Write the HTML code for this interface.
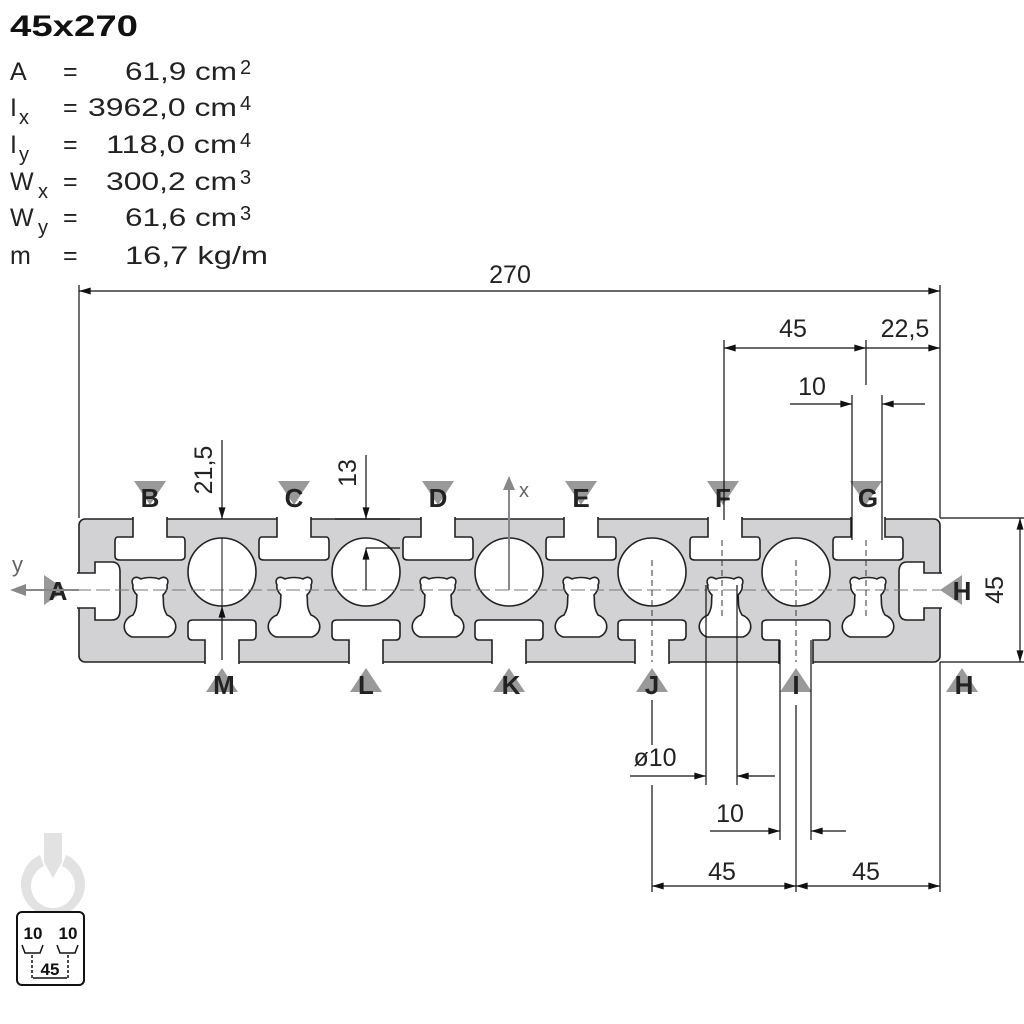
<!DOCTYPE html>
<html><head><meta charset="utf-8"><style>
html,body{margin:0;padding:0;background:#fff;}
svg{display:block;font-family:"Liberation Sans",sans-serif;}
</style></head><body>
<svg width="1024" height="1024" viewBox="0 0 1024 1024" xmlns="http://www.w3.org/2000/svg">
<defs>
<marker id="ar" viewBox="0 0 10 6" refX="10" refY="3" markerWidth="12" markerHeight="7" markerUnits="userSpaceOnUse" orient="auto-start-reverse"><path d="M0,0L10,3L0,6z" fill="#111"/></marker>
<g id="pear"><path d="M-9,-14 C-15,-18 -20,-14 -17,-8 C-18,-4 -15,0 -13,2 C-14,8 -12,14 -17,22 C-28,26 -29,40 -18,44 L18,44 C29,40 28,26 17,22 C12,14 14,8 13,2 C15,0 18,-4 17,-8 C20,-14 15,-18 9,-14 C4,-16 -4,-16 -9,-14 Z" fill="#fff" stroke="#222" stroke-width="1.6"/></g>
<g id="tslot"><path d="M-17,517 L-17,537 L-32,537 C-35,537 -35,540 -35,542 L-35,556 C-35,559 -33,560 -30,560 L30,560 C33,560 35,559 35,556 L35,542 C35,540 35,537 32,537 L17,537 L17,517" fill="#fff" stroke="#222" stroke-width="1.6"/></g>
<g id="bslot"><path d="M-17,664 L-17,640 L-30,640 C-33,640 -34,638 -34,635 L-34,624 C-34,621 -32,620 -29,620 L29,620 C32,620 34,621 34,624 L34,635 C34,638 33,640 30,640 L17,640 L17,664" fill="#fff" stroke="#222" stroke-width="1.6"/></g>
<polygon id="td" points="-16,-12 16,-12 0,12" fill="#999"/>
<polygon id="tu" points="-16,12 16,12 0,-12" fill="#999"/>
</defs>

<!-- header text -->
<text x="10" y="36" font-size="30" font-weight="bold" fill="#111" textLength="128" lengthAdjust="spacingAndGlyphs">45x270</text>
<g font-size="25" fill="#222">
<text x="10" y="80">A</text><text x="63" y="80">=</text>
<text x="237" y="80" text-anchor="end" textLength="112" lengthAdjust="spacingAndGlyphs">61,9 cm</text><text x="240" y="74" font-size="20">2</text>
<text x="10" y="116">I</text><text x="19" y="124" font-size="20">x</text><text x="63" y="116">=</text>
<text x="237" y="116" text-anchor="end" textLength="149" lengthAdjust="spacingAndGlyphs">3962,0 cm</text><text x="240" y="110" font-size="20">4</text>
<text x="10" y="153">I</text><text x="19" y="161" font-size="20">y</text><text x="63" y="153">=</text>
<text x="237" y="153" text-anchor="end" textLength="131" lengthAdjust="spacingAndGlyphs">118,0 cm</text><text x="240" y="147" font-size="20">4</text>
<text x="10" y="190">W</text><text x="38" y="198" font-size="20">x</text><text x="63" y="190">=</text>
<text x="237" y="190" text-anchor="end" textLength="131" lengthAdjust="spacingAndGlyphs">300,2 cm</text><text x="240" y="184" font-size="20">3</text>
<text x="10" y="226">W</text><text x="38" y="234" font-size="20">y</text><text x="63" y="226">=</text>
<text x="237" y="226" text-anchor="end" textLength="112" lengthAdjust="spacingAndGlyphs">61,6 cm</text><text x="240" y="220" font-size="20">3</text>
<text x="10" y="264">m</text><text x="63" y="264">=</text>
<text x="125" y="264" textLength="143" lengthAdjust="spacingAndGlyphs">16,7 kg/m</text>
</g>

<!-- profile -->
<rect x="79" y="519" width="861" height="143" rx="6" fill="#d2d2d4" stroke="#222" stroke-width="1.6"/>
<g>
<use href="#tslot" transform="translate(150,0)"/><use href="#tslot" transform="translate(294,0)"/>
<use href="#tslot" transform="translate(438,0)"/><use href="#tslot" transform="translate(581,0)"/>
<use href="#tslot" transform="translate(725,0)"/><use href="#tslot" transform="translate(868,0)"/>
<use href="#bslot" transform="translate(222,0)"/><use href="#bslot" transform="translate(366,0)"/>
<use href="#bslot" transform="translate(509,0)"/><use href="#bslot" transform="translate(652,0)"/>
<use href="#bslot" transform="translate(796,0)"/>
</g>
<path d="M77,573 L95,573 L95,562 L112,562 C118,562 120,566 120,572 L120,610 C120,616 118,620 112,620 L95,620 L95,608 L77,608" fill="#fff" stroke="#222" stroke-width="1.6"/>
<path d="M942,573 L924,573 L924,562 L907,562 C901,562 899,566 899,572 L899,610 C899,616 901,620 907,620 L924,620 L924,608 L942,608" fill="#fff" stroke="#222" stroke-width="1.6"/>
<g fill="#fff" stroke="#222" stroke-width="1.6">
<circle cx="222" cy="572" r="34"/><circle cx="366" cy="572" r="34"/><circle cx="509" cy="572" r="34"/>
<circle cx="652" cy="572" r="34"/><circle cx="796" cy="572" r="34"/>
</g>
<g>
<use href="#pear" transform="translate(150,593)"/><use href="#pear" transform="translate(294,593)"/>
<use href="#pear" transform="translate(438,593)"/><use href="#pear" transform="translate(581,593)"/>
<use href="#pear" transform="translate(725,593)"/><use href="#pear" transform="translate(868,593)"/>
</g>
<line x1="20" y1="590" x2="960" y2="590" stroke="#777" stroke-width="1" stroke-dasharray="14,5"/>

<!-- markers -->
<g font-size="26" font-weight="bold" fill="#222" text-anchor="middle">
<use href="#td" x="150" y="493"/><text x="150" y="507">B</text>
<use href="#td" x="294" y="493"/><text x="294" y="507">C</text>
<use href="#td" x="438" y="493"/><text x="438" y="507">D</text>
<use href="#td" x="581" y="493"/><text x="581" y="507">E</text>
<use href="#td" x="723" y="493"/><text x="723" y="507">F</text>
<use href="#td" x="866" y="493"/><text x="868" y="507">G</text>
<use href="#tu" x="222" y="680"/><text x="224" y="694">M</text>
<use href="#tu" x="366" y="680"/><text x="366" y="694">L</text>
<use href="#tu" x="509" y="680"/><text x="511" y="694">K</text>
<use href="#tu" x="652" y="680"/><text x="652" y="694">J</text>
<use href="#tu" x="796" y="680"/><text x="796" y="694">I</text>
<use href="#tu" x="962" y="680"/><text x="964" y="694">H</text>
<polygon points="44,575 44,605 66,590" fill="#999"/><text x="58" y="600">A</text>
<polygon points="962,575 962,605 940,590" fill="#999"/><text x="962" y="600">H</text>
</g>

<!-- axes -->
<line x1="509" y1="590" x2="509" y2="482" stroke="#888" stroke-width="2"/>
<polygon points="503,490 509,476 515,490" fill="#888"/>
<text x="519" y="497" font-size="20" fill="#666">x</text>
<line x1="79" y1="590" x2="20" y2="590" stroke="#888" stroke-width="2"/>
<polygon points="26,584 10,590 26,596" fill="#888"/>
<text x="12" y="572" font-size="22" fill="#666">y</text>

<!-- dimensions -->
<g stroke="#111" stroke-width="1.2" fill="none">
<line x1="79" y1="285" x2="79" y2="518"/><line x1="940" y1="285" x2="940" y2="518"/>
<line x1="79" y1="291" x2="940" y2="291" marker-start="url(#ar)" marker-end="url(#ar)"/>
<line x1="724" y1="340" x2="724" y2="520"/><line x1="866" y1="340" x2="866" y2="385"/>
<line x1="724" y1="348" x2="866" y2="348" marker-start="url(#ar)" marker-end="url(#ar)"/>
<line x1="866" y1="348" x2="940" y2="348" marker-end="url(#ar)"/>
<line x1="852" y1="395" x2="852" y2="540"/><line x1="882" y1="395" x2="882" y2="540"/>
<line x1="790" y1="404" x2="852" y2="404" marker-end="url(#ar)"/>
<line x1="925" y1="404" x2="882" y2="404" marker-end="url(#ar)"/>
<line x1="940" y1="518" x2="1024" y2="518"/><line x1="940" y1="662" x2="1024" y2="662"/>
<line x1="1020" y1="518" x2="1020" y2="662" marker-start="url(#ar)" marker-end="url(#ar)"/>
<line x1="222" y1="440" x2="222" y2="519" marker-end="url(#ar)"/>
<line x1="222" y1="660" x2="222" y2="606" marker-end="url(#ar)"/>
<line x1="222" y1="538" x2="222" y2="606" stroke-width="1"/>
<line x1="366" y1="455" x2="366" y2="519" marker-end="url(#ar)"/>
<line x1="366" y1="590" x2="366" y2="548" marker-end="url(#ar)"/>
<line x1="366" y1="548" x2="400" y2="548"/><line x1="335" y1="519" x2="400" y2="519"/>
<line x1="652" y1="700" x2="652" y2="745"/><line x1="652" y1="785" x2="652" y2="892"/>
<line x1="706" y1="585" x2="706" y2="785"/><line x1="737" y1="585" x2="737" y2="785"/>
<line x1="630" y1="776" x2="706" y2="776" marker-end="url(#ar)"/>
<line x1="775" y1="776" x2="737" y2="776" marker-end="url(#ar)"/>
<line x1="780" y1="640" x2="780" y2="840"/><line x1="811" y1="640" x2="811" y2="840"/>
<line x1="796" y1="705" x2="796" y2="892"/>
<line x1="710" y1="831" x2="780" y2="831" marker-end="url(#ar)"/>
<line x1="846" y1="831" x2="811" y2="831" marker-end="url(#ar)"/>
<line x1="940" y1="662" x2="940" y2="892"/>
<line x1="652" y1="886" x2="796" y2="886" marker-start="url(#ar)" marker-end="url(#ar)"/>
<line x1="796" y1="886" x2="940" y2="886" marker-start="url(#ar)" marker-end="url(#ar)"/>
</g>
<g stroke="#333" stroke-width="1" stroke-dasharray="6,4">
<line x1="652" y1="560" x2="652" y2="662"/><line x1="796" y1="560" x2="796" y2="662"/>
<line x1="722" y1="540" x2="722" y2="620"/><line x1="866" y1="540" x2="866" y2="620"/>
</g>
<g font-size="25" fill="#222" text-anchor="middle">
<text x="510" y="283">270</text>
<text x="793" y="337">45</text>
<text x="905" y="337">22,5</text>
<text x="812" y="395">10</text>
<text x="655" y="766">ø10</text>
<text x="730" y="822">10</text>
<text x="722" y="880">45</text>
<text x="866" y="880">45</text>
<text transform="translate(1003,590) rotate(-90)">45</text>
<text transform="translate(212,470) rotate(-90)">21,5</text>
<text transform="translate(356,473) rotate(-90)">13</text>
</g>

<!-- logo -->
<g fill="#e2e2e2">
<path d="M40,855 A32,32 0 1 0 66,855 L62,866 A22,22 0 1 1 44,866 Z"/>
<path d="M44,833 L62,833 L62,862 L53,878 L44,862 Z"/>
</g>
<!-- icon -->
<rect x="17" y="912" width="67" height="73" rx="5" fill="#fff" stroke="#111" stroke-width="2"/>
<g font-size="17" font-weight="bold" fill="#111" text-anchor="middle">
<text x="33" y="939">10</text><text x="68" y="939">10</text><text x="50" y="975">45</text>
</g>
<g stroke="#111" stroke-width="1.5" fill="none">
<path d="M22,945 L25,953 L40,953 L43,945"/><path d="M57,945 L60,953 L75,953 L78,945"/>
<line x1="32" y1="955" x2="32" y2="980" stroke-dasharray="3,2"/><line x1="68" y1="955" x2="68" y2="980" stroke-dasharray="3,2"/>
<line x1="33" y1="978" x2="67" y2="978"/>
</g>
</svg>
</body></html>
